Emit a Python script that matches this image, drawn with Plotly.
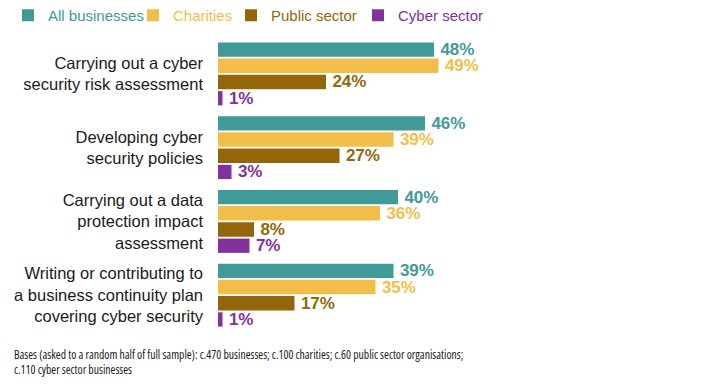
import plotly.graph_objects as go

categories = [
    "Carrying out a cyber<br>security risk assessment",
    "Developing cyber<br>security policies",
    "Carrying out a data<br>protection impact<br>assessment",
    "Writing or contributing to<br>a business continuity plan<br>covering cyber security",
]
series_names = ["All businesses", "Charities", "Public sector", "Cyber sector"]
all_businesses = [48, 46, 40, 39]
charities = [49, 39, 36, 35]
public_sector = [24, 27, 8, 17]
cyber_sector = [1, 3, 7, 1]
colors = ["#3F9A98", "#F2BE4A", "#936709", "#84329B"]
footnote_lines = ["Bases (asked to a random half of full sample): c.470 businesses; c.100 charities; "
                  "c.60 public sector organisations;", "c.110 cyber sector businesses"]

values = [all_businesses, charities, public_sector, cyber_sector]

# page has an 8px body margin, so the figure is sized to fit the window
W, H = 709, 378
ML, MT = 210, 28.5
PW, PH = 270, 296
MR, MB = W - ML - PW, H - MT - PH
FONT = "Arial"
legend_x = [-13, 125, 223, 350]   # legend box left edges (px, figure coords)
legend_ids = ["legend", "legend2", "legend3", "legend4"]

fig = go.Figure()
for name, vals, col, lid in zip(series_names, values, colors, legend_ids):
    fig.add_trace(go.Bar(
        y=categories, x=vals, orientation="h",
        name=name, legend=lid,
        marker=dict(color=col, line=dict(width=0)),
        text=[f"\u2009{v}%" for v in vals],
        textposition="outside",
        textfont=dict(family=FONT, size=17, color=col, weight="bold"),
        constraintext="none",
        cliponaxis=False,
        hoverinfo="skip",
    ))

legends = {}
for lid, col, lx in zip(legend_ids, colors, legend_x):
    legends[lid] = dict(
        orientation="h", xref="container", yref="container",
        x=lx / W, y=1 - 7.5 / H, xanchor="left", yanchor="middle",
        font=dict(family=FONT, size=15, color=col),
        itemwidth=30, bgcolor="rgba(0,0,0,0)", borderwidth=0,
    )

cond = "<span style='font-stretch:condensed'>{}</span>"
footnote = "<br>".join(cond.format(s) for s in footnote_lines)

fig.update_layout(
    width=W, height=H,
    margin=dict(l=ML, r=MR, t=MT, b=MB, autoexpand=False),
    barmode="group",
    bargap=0.12,
    bargroupgap=0.12,
    paper_bgcolor="white",
    plot_bgcolor="white",
    font=dict(family=FONT, color="#1a1a1a"),
    showlegend=True,
    xaxis=dict(range=[0, 60], showgrid=False, zeroline=False,
               showticklabels=False, showline=False, fixedrange=True),
    yaxis=dict(autorange="reversed", showgrid=False, zeroline=False,
               showline=False, ticks="", ticklabelstandoff=14,
               tickfont=dict(family=FONT, size=16.5, color="#1a1a1a")),
    annotations=[dict(
        text=footnote, xref="paper", yref="paper",
        x=(4 - ML) / PW, y=1 - (337 - MT) / PH, xanchor="left", yanchor="top",
        showarrow=False, align="left",
        font=dict(family="Open Sans", size=11.7, color="#1a1a1a"),
    )],
    **legends,
)

fig.write_html("out.html")
